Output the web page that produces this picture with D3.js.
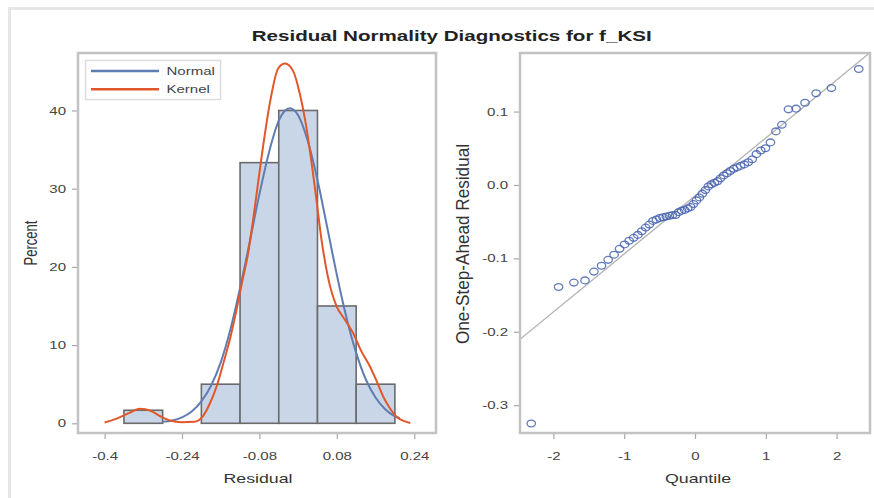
<!DOCTYPE html>
<html>
<head>
<meta charset="utf-8">
<script src="https://cdn.jsdelivr.net/npm/d3@7"></script>
<style>
  body { margin: 0; background: #fff; }
  svg { display: block; font-family: "Liberation Sans", Arial, sans-serif; }
</style>
</head>
<body>
<div class="chart"></div>
<script>
// histogram bins (percent of 60 residuals)
const binMids = [-0.32, -0.24, -0.16, -0.08, 0, 0.08, 0.16];
const binPercent = [1.67, 0, 5, 33.33, 40, 15, 5];
const binWidth = 0.08;

// fitted normal curve
const normalX = [-0.28, -0.26, -0.24, -0.22, -0.2, -0.18, -0.16, -0.14, -0.12, -0.1, -0.08, -0.06, -0.04, -0.017,
  0, 0.02, 0.04, 0.06, 0.08, 0.1, 0.12, 0.14, 0.16, 0.18, 0.2, 0.21];
const normalY = [0.2, 0.35, 0.75, 1.5, 2.8, 4.8, 7.8, 12.0, 17.3, 23.2, 29.3, 34.7, 38.7, 40.3,
  39.4, 36.1, 31.1, 25.1, 19.0, 13.5, 9.0, 5.6, 3.3, 1.8, 0.9, 0.66];

// kernel density curve
const kernelX = [-0.4, -0.375, -0.35, -0.327, -0.305, -0.285, -0.265, -0.24, -0.215, -0.197, -0.182, -0.168,
  -0.154, -0.14, -0.127, -0.116, -0.104, -0.092, -0.075, -0.058, -0.041, -0.027, -0.01, 0.004, 0.015, 0.035,
  0.049, 0.062, 0.08, 0.095, 0.114, 0.13, 0.149, 0.163, 0.176, 0.19, 0.204, 0.218, 0.232];
const kernelY = [0.1, 0.6, 1.3, 1.85, 1.6, 0.9, 0.35, 0.15, 0.2, 0.9, 2.6, 4.8,
  7.8, 11.0, 14.6, 18.0, 21.5, 26.5, 34.3, 41.1, 45.4, 46.0, 45.0, 42.0, 38.6, 30.0,
  23.2, 18.6, 14.9, 13.4, 11.5, 9.3, 7.2, 5.3, 3.4, 1.9, 0.8, 0.3, 0.05];

// Q-Q plot: normal quantiles and sorted one-step-ahead residuals
const qqQuantile = [-2.313, -1.927, -1.711, -1.554, -1.428, -1.320, -1.227, -1.143, -1.066, -0.995,
  -0.930, -0.867, -0.808, -0.752, -0.697, -0.645, -0.595, -0.546, -0.498, -0.452,
  -0.406, -0.361, -0.318, -0.274, -0.231, -0.189, -0.147, -0.104, -0.062, -0.021,
  0.021, 0.062, 0.104, 0.147, 0.189, 0.231, 0.274, 0.318, 0.361, 0.406,
  0.452, 0.498, 0.546, 0.595, 0.645, 0.697, 0.752, 0.808, 0.867, 0.930,
  0.995, 1.066, 1.143, 1.227, 1.320, 1.428, 1.554, 1.711, 1.927, 2.313];
const qqResidual = [-0.325, -0.139, -0.133, -0.130, -0.118, -0.110, -0.102, -0.095, -0.087, -0.081,
  -0.076, -0.072, -0.068, -0.063, -0.058, -0.054, -0.049, -0.047, -0.045, -0.044,
  -0.043, -0.042, -0.041, -0.041, -0.037, -0.035, -0.034, -0.032, -0.030, -0.026,
  -0.021, -0.017, -0.012, -0.007, -0.002, 0.001, 0.003, 0.005, 0.009, 0.013,
  0.016, 0.019, 0.022, 0.024, 0.026, 0.028, 0.031, 0.035, 0.042, 0.047,
  0.050, 0.058, 0.073, 0.082, 0.103, 0.104, 0.112, 0.125, 0.132, 0.158];
// reference line (mean, std dev of residuals)
const refMean = -0.015;
const refSd = 0.079;

const histXTicks = [-0.4, -0.24, -0.08, 0.08, 0.24];
const histYTicks = [0, 10, 20, 30, 40];
const qqXTicks = [-2, -1, 0, 1, 2];
const qqYTicks = [-0.3, -0.2, -0.1, 0.0, 0.1];

const title = "Residual Normality Diagnostics for f_KSI";
const legendLabels = ["Normal", "Kernel"];

const W = 874, H = 498;
const SX = 1.366; // text in the source picture is stretched horizontally
const normalColor = "#5f7db2";
const kernelColor = "#e2572a";

const svg = d3.select(".chart").append("svg")
  .attr("width", W).attr("height", H);

// outer light border
svg.append("rect")
  .attr("x", 9.5).attr("y", 8.5).attr("width", W + 20).attr("height", H + 20)
  .attr("fill", "none").attr("stroke", "#e6e6e6").attr("stroke-width", 3);

svg.append("text")
  .attr("x", 251.7).attr("y", 41)
  .attr("font-size", 15.5).attr("font-weight", "bold").attr("fill", "#222")
  .attr("textLength", 400).attr("lengthAdjust", "spacingAndGlyphs")
  .text(title);

function styleAxis(g, side) {
  g.select(".domain").remove();
  g.selectAll(".tick line").attr("stroke", "#a8a8a8").attr("stroke-width", 1.2);
  g.selectAll(".tick text").attr("fill", "#444").attr("font-size", 11)
    .attr("transform", `scale(${SX},1)`);
  if (side === "left") g.selectAll(".tick text").attr("x", -12 / SX);
}

function drawFrame(box) {
  svg.append("rect")
    .attr("x", box.x0).attr("y", box.y0)
    .attr("width", box.x1 - box.x0).attr("height", box.y1 - box.y0)
    .attr("fill", "none").attr("stroke", "#c2c2c2").attr("stroke-width", 2.5);
}

// ---------- left panel: histogram ----------
const L = {x0: 78, x1: 436, y0: 53, y1: 433};
const hx = d3.scaleLinear().domain([-0.455, 0.285]).range([L.x0, L.x1]);
const hy = d3.scaleLinear().domain([-1.24, 47.35]).range([L.y1, L.y0]);

const hist = svg.append("g");
hist.selectAll("rect.bar")
  .data(binMids.map((m, i) => ({mid: m, pct: binPercent[i]})).filter(d => d.pct > 0))
  .enter().append("rect")
  .attr("class", "bar")
  .attr("x", d => hx(d.mid - binWidth / 2))
  .attr("width", d => hx(d.mid + binWidth / 2) - hx(d.mid - binWidth / 2))
  .attr("y", d => hy(d.pct))
  .attr("height", d => hy(0) - hy(d.pct))
  .attr("fill", "#c9d6e7")
  .attr("stroke", "#6b6b6b")
  .attr("stroke-width", 1.6);

const curveLine = d3.line()
  .x(d => hx(d[0])).y(d => hy(d[1]))
  .curve(d3.curveMonotoneX);

hist.append("path")
  .datum(normalX.map((x, i) => [x, normalY[i]]))
  .attr("d", curveLine)
  .attr("fill", "none").attr("stroke", normalColor).attr("stroke-width", 2);

hist.append("path")
  .datum(kernelX.map((x, i) => [x, kernelY[i]]))
  .attr("d", curveLine)
  .attr("fill", "none").attr("stroke", kernelColor).attr("stroke-width", 2);

svg.append("g")
  .attr("transform", `translate(0,${L.y1})`)
  .call(d3.axisBottom(hx).tickValues(histXTicks).tickSize(6).tickPadding(13)
    .tickFormat(d => String(d)))
  .call(g => styleAxis(g, "bottom"));

svg.append("g")
  .attr("transform", `translate(${L.x0},0)`)
  .call(d3.axisLeft(hy).tickValues(histYTicks).tickSize(6).tickFormat(d => String(d)))
  .call(g => styleAxis(g, "left"));

drawFrame(L);

// legend
const leg = svg.append("g");
leg.append("rect")
  .attr("x", 85.5).attr("y", 60.5).attr("width", 135).attr("height", 39)
  .attr("fill", "#fff").attr("stroke", "#dcdcdc").attr("stroke-width", 1.5);
[normalColor, kernelColor].forEach((c, i) => {
  const y = 71 + i * 18.3;
  leg.append("line")
    .attr("x1", 91).attr("x2", 159).attr("y1", y).attr("y2", y)
    .attr("stroke", c).attr("stroke-width", 2.5);
  leg.append("text")
    .attr("transform", `translate(166.5,${y + 4}) scale(${SX},1)`)
    .attr("font-size", 11).attr("fill", "#444")
    .text(legendLabels[i]);
});

svg.append("text")
  .attr("transform", `translate(258,483) scale(${SX},1)`)
  .attr("text-anchor", "middle").attr("font-size", 13).attr("fill", "#333")
  .text("Residual");

svg.append("text")
  .attr("transform", `translate(37,243) scale(${SX},1) rotate(-90)`)
  .attr("text-anchor", "middle").attr("font-size", 13).attr("fill", "#333")
  .text("Percent");

// ---------- right panel: Q-Q plot ----------
const R = {x0: 520, x1: 870, y0: 53, y1: 433};
const qx = d3.scaleLinear().domain([-2.472, 2.472]).range([R.x0, R.x1]);
const qy = d3.scaleLinear().domain([-0.3379, 0.1798]).range([R.y1, R.y0]);

svg.append("defs").append("clipPath").attr("id", "qqclip")
  .append("rect").attr("x", R.x0).attr("y", R.y0)
  .attr("width", R.x1 - R.x0).attr("height", R.y1 - R.y0);

const qq = svg.append("g").attr("clip-path", "url(#qqclip)");
const qdom = qx.domain();
qq.append("line")
  .attr("x1", qx(qdom[0])).attr("y1", qy(refMean + refSd * qdom[0]))
  .attr("x2", qx(qdom[1])).attr("y2", qy(refMean + refSd * qdom[1]))
  .attr("stroke", "#b5b5b5").attr("stroke-width", 1.4);

qq.selectAll("ellipse")
  .data(qqQuantile.map((q, i) => [q, qqResidual[i]]))
  .enter().append("ellipse")
  .attr("cx", d => qx(d[0])).attr("cy", d => qy(d[1]))
  .attr("rx", 4.2).attr("ry", 3.4)
  .attr("fill", "none").attr("stroke", "#4563b0").attr("stroke-width", 1.3)
  .attr("stroke-opacity", 0.85);

svg.append("g")
  .attr("transform", `translate(0,${R.y1})`)
  .call(d3.axisBottom(qx).tickValues(qqXTicks).tickSize(6).tickPadding(13)
    .tickFormat(d => String(d)))
  .call(g => styleAxis(g, "bottom"));

svg.append("g")
  .attr("transform", `translate(${R.x0},0)`)
  .call(d3.axisLeft(qy).tickValues(qqYTicks).tickSize(6).tickFormat(d => d.toFixed(1)))
  .call(g => styleAxis(g, "left"));

drawFrame(R);

svg.append("text")
  .attr("transform", `translate(698,483) scale(${SX},1)`)
  .attr("text-anchor", "middle").attr("font-size", 13).attr("fill", "#333")
  .text("Quantile");

svg.append("text")
  .attr("transform", `translate(469,244) scale(${SX},1) rotate(-90)`)
  .attr("text-anchor", "middle").attr("font-size", 13).attr("fill", "#333")
  .attr("textLength", 200).attr("lengthAdjust", "spacingAndGlyphs")
  .text("One-Step-Ahead Residual");
</script>
</body>
</html>
